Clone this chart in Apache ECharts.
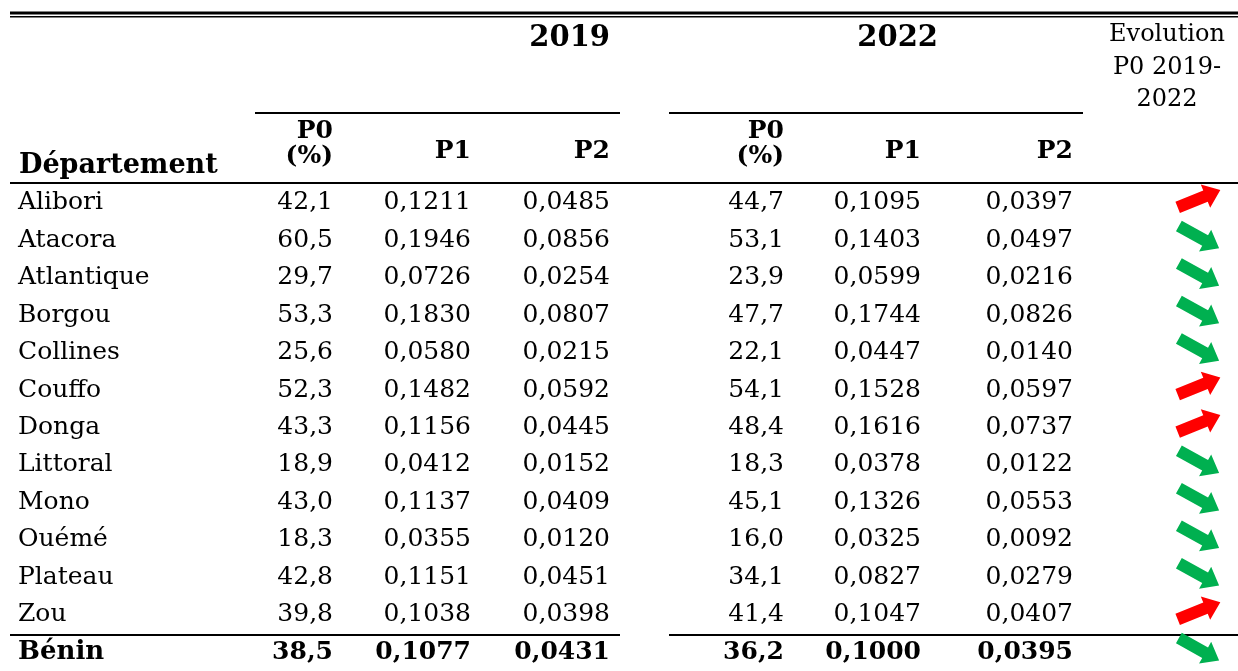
<!DOCTYPE html>
<html>
<head>
<meta charset="utf-8">
<script src="https://cdn.jsdelivr.net/npm/echarts@6/dist/echarts.min.js"></script>
<style>
  html, body { margin: 0; padding: 0; background: #fff; }
  #table { width: 1238px; height: 671px; }
</style>
</head>
<body>
<div id="table"></div>
<script>
const departements = ['Alibori', 'Atacora', 'Atlantique', 'Borgou', 'Collines', 'Couffo',
  'Donga', 'Littoral', 'Mono', 'Ouémé', 'Plateau', 'Zou', 'Bénin']
const p0_2019 = [42.1, 60.5, 29.7, 53.3, 25.6, 52.3, 43.3, 18.9, 43.0, 18.3, 42.8, 39.8, 38.5]
const p1_2019 = [0.1211, 0.1946, 0.0726, 0.1830, 0.0580, 0.1482, 0.1156, 0.0412, 0.1137, 0.0355, 0.1151, 0.1038, 0.1077]
const p2_2019 = [0.0485, 0.0856, 0.0254, 0.0807, 0.0215, 0.0592, 0.0445, 0.0152, 0.0409, 0.0120, 0.0451, 0.0398, 0.0431]
const p0_2022 = [44.7, 53.1, 23.9, 47.7, 22.1, 54.1, 48.4, 18.3, 45.1, 16.0, 34.1, 41.4, 36.2]
const p1_2022 = [0.1095, 0.1403, 0.0599, 0.1744, 0.0447, 0.1528, 0.1616, 0.0378, 0.1326, 0.0325, 0.0827, 0.1047, 0.1000]
const p2_2022 = [0.0397, 0.0497, 0.0216, 0.0826, 0.0140, 0.0597, 0.0737, 0.0122, 0.0553, 0.0092, 0.0279, 0.0407, 0.0395]
// arrow shown in the last column ('up' = red, 'down' = green)
const evolution = ['up', 'down', 'down', 'down', 'down', 'up', 'up', 'down', 'down', 'down', 'down', 'up', 'down']

const FONT = "'DejaVu Serif', 'Liberation Serif', serif"
const SIZE = 25

// right edge of each numeric column, arrow column centre
const colRight = [333, 471, 610, 784, 921, 1073]
const arrowX = 1199

const chart = echarts.init(document.getElementById('table'))

const fmt = (v, d) => v.toFixed(d).replace('.', ',')

function arrowPoints(cx, cy, up) {
  // block arrow pointing along +x, then rotated
  const shape = [[-23, -6], [7, -6], [7, -12.5], [23, 0], [7, 12.5], [7, 6], [-23, 6]]
  const a = up ? -22 * Math.PI / 180 : 29 * Math.PI / 180
  const c = Math.cos(a), s = Math.sin(a)
  return shape.map(p => [cx + p[0] * c - p[1] * s, cy + p[0] * s + p[1] * c])
}

function renderRow(params, api) {
  const i = api.value(0)
  const y = api.coord([0, i])[1]
  const bold = i === departements.length - 1
  const font = (bold ? 'bold ' : '') + SIZE + 'px ' + FONT
  const values = [
    fmt(p0_2019[i], 1), fmt(p1_2019[i], 4), fmt(p2_2019[i], 4),
    fmt(p0_2022[i], 1), fmt(p1_2022[i], 4), fmt(p2_2022[i], 4)
  ]
  const children = [{
    type: 'text',
    style: {
      text: departements[i], x: api.coord([18, i])[0], y: y,
      font: (bold ? 'bold 26px ' : SIZE + 'px ') + FONT,
      textAlign: 'left', textVerticalAlign: 'middle', fill: '#000'
    }
  }]
  values.forEach((t, k) => {
    children.push({
      type: 'text',
      style: {
        text: t, x: api.coord([colRight[k], i])[0], y: y, font: font,
        textAlign: 'right', textVerticalAlign: 'middle', fill: '#000'
      }
    })
  })
  const up = evolution[i] === 'up'
  children.push({
    type: 'polygon',
    shape: { points: arrowPoints(api.coord([arrowX, i])[0], y - (up ? 4 : 3), up) },
    style: { fill: up ? '#ff0000' : '#00b050' }
  })
  return { type: 'group', children: children }
}

function hline(x1, x2, y, w) {
  return { type: 'line', shape: { x1: x1, y1: y, x2: x2, y2: y }, style: { stroke: '#000', lineWidth: w }, silent: true }
}

function htext(text, x, y, align, bold, size) {
  return {
    type: 'text',
    style: {
      text: text, x: x, y: y, textAlign: align, textVerticalAlign: 'middle',
      font: (bold ? 'bold ' : '') + size + 'px ' + FONT, fill: '#000'
    },
    silent: true
  }
}

const options = {
  animation: false,
  grid: { left: 0, right: 0, top: 184, height: 489 },
  xAxis: { type: 'value', min: 0, max: 1238, show: false },
  yAxis: { type: 'category', data: departements, inverse: true, show: false },
  series: [{
    type: 'custom',
    renderItem: renderRow,
    data: departements.map((d, i) => [i]),
    silent: true
  }],
  graphic: [
    // rules
    hline(10, 1238, 13, 3),
    hline(10, 1238, 16.8, 1.5),
    hline(255, 620, 113, 2),
    hline(669, 1083, 113, 2),
    hline(10, 1238, 183, 2),
    hline(10, 620, 635, 2),
    hline(669, 1238, 635, 2),
    // headers
    htext('2019', 610, 38, 'right', true, 29),
    htext('2022', 938, 38, 'right', true, 29),
    htext('Evolution', 1167, 35, 'center', false, 24),
    htext('P0 2019-', 1167, 68, 'center', false, 24),
    htext('2022', 1167, 100, 'center', false, 24),
    htext('Département', 19, 166, 'left', true, 27),
    htext('P0', 333, 131, 'right', true, 25),
    htext('(%)', 333, 156, 'right', true, 25),
    htext('P1', 471, 151, 'right', true, 25),
    htext('P2', 610, 151, 'right', true, 25),
    htext('P0', 784, 131, 'right', true, 25),
    htext('(%)', 784, 156, 'right', true, 25),
    htext('P1', 921, 151, 'right', true, 25),
    htext('P2', 1073, 151, 'right', true, 25)
  ]
}

chart.setOption(options)
window.addEventListener('resize', chart.resize)
</script>
</body>
</html>
